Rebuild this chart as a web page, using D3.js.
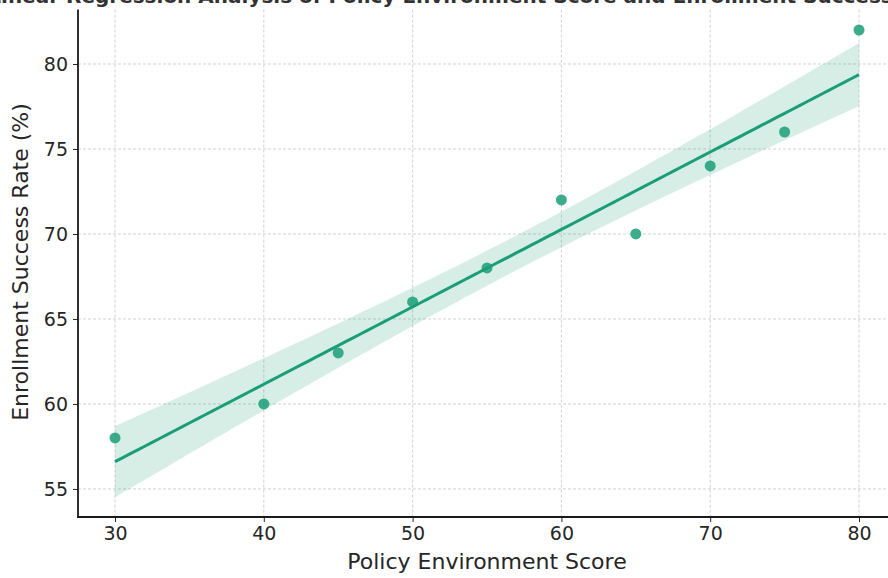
<!DOCTYPE html>
<html>
<head>
<meta charset="utf-8">
<script src="https://cdn.jsdelivr.net/npm/d3@7"></script>
<style>
  html, body { margin: 0; padding: 0; background: #fff; overflow: hidden; }
  svg { display: block; font-family: 'DejaVu Sans', sans-serif; }
</style>
</head>
<body>
<div id="chart"></div>
<script>
// Policy environment score vs enrollment success rate
const policyScores = [30, 40, 45, 50, 55, 60, 65, 70, 75, 80];
const successRates = [58, 60, 63, 66, 68, 72, 70, 74, 76, 82];
const xTicks = [30, 40, 50, 60, 70, 80];
const yTicks = [55, 60, 65, 70, 75, 80];

const width = 888;
const height = 578;
const color = '#1b9e77';

const svg = d3.select('#chart')
  .append('svg')
  .attr('width', width)
  .attr('height', height);

const x = d3.scaleLinear().domain([27.5, 82.5]).range([77.8, 896.2]);
const y = d3.scaleLinear().domain([53.35, 83.2]).range([517, 9.6]);

// least squares fit + 95% band (normal approx)
const n = policyScores.length;
const xm = d3.mean(policyScores);
const ym = d3.mean(successRates);
const sxx = d3.sum(policyScores, v => (v - xm) ** 2);
const sxy = d3.sum(policyScores, (v, i) => (v - xm) * (successRates[i] - ym));
const slope = sxy / sxx;
const intercept = ym - slope * xm;
const sse = d3.sum(policyScores, (v, i) => (successRates[i] - (intercept + slope * v)) ** 2);
const s = Math.sqrt(sse / (n - 2));
const fitX = d3.range(0, 101).map(i => 30 + (80 - 30) * i / 100);
const fit = fitX.map(v => {
  const yh = intercept + slope * v;
  const se = s * Math.sqrt(1 / n + (v - xm) ** 2 / sxx);
  return { x: v, y: yh, lo: yh - 1.96 * se, hi: yh + 1.96 * se };
});

// Title (mostly cropped off the top, as in the source image)
svg.append('text')
  .attr('x', 470)
  .attr('y', 3)
  .attr('text-anchor', 'middle')
  .style('font-size', '20px')
  .style('font-weight', 'bold')
  .attr('fill', '#333')
  .text('Linear Regression Analysis of Policy Environment Score and Enrollment Success Rate');

// grid
const grid = svg.append('g')
  .attr('stroke', '#b0b0b0')
  .attr('stroke-width', 0.8)
  .attr('stroke-dasharray', '3,2')
  .attr('opacity', 0.7);

grid.selectAll('line.gx')
  .data(xTicks)
  .enter()
  .append('line')
  .attr('x1', d => x(d)).attr('x2', d => x(d))
  .attr('y1', y.range()[1]).attr('y2', 517);

grid.selectAll('line.gy')
  .data(yTicks)
  .enter()
  .append('line')
  .attr('x1', 78).attr('x2', width)
  .attr('y1', d => y(d)).attr('y2', d => y(d));

// confidence band
svg.append('path')
  .datum(fit)
  .attr('fill', color)
  .attr('fill-opacity', 0.18)
  .attr('d', d3.area()
    .x(d => x(d.x))
    .y0(d => y(d.lo))
    .y1(d => y(d.hi)));

// regression line
svg.append('path')
  .datum(fit)
  .attr('fill', 'none')
  .attr('stroke', color)
  .attr('stroke-width', 3)
  .attr('d', d3.line().x(d => x(d.x)).y(d => y(d.y)));

// points
svg.append('g')
  .selectAll('circle')
  .data(policyScores)
  .enter()
  .append('circle')
  .attr('cx', d => x(d))
  .attr('cy', (d, i) => y(successRates[i]))
  .attr('r', 5.5)
  .attr('fill', color)
  .attr('fill-opacity', 0.85);

// axes
const xAxis = svg.append('g')
  .attr('transform', 'translate(0,517)')
  .call(d3.axisBottom(x).tickValues(xTicks).tickSize(5).tickPadding(5).tickFormat(d3.format('d')));
const yAxis = svg.append('g')
  .attr('transform', 'translate(78,0)')
  .call(d3.axisLeft(y).tickValues(yTicks).tickSize(5).tickPadding(5).tickFormat(d3.format('d')));

[xAxis, yAxis].forEach(g => {
  g.select('.domain').remove();
  g.selectAll('text').style('font-size', '19px').attr('fill', '#262626').style('font-family', 'DejaVu Sans');
  g.selectAll('line').attr('stroke', '#262626').attr('stroke-width', 1);
});

// spines
svg.append('line')
  .attr('x1', 78).attr('x2', 78)
  .attr('y1', y.range()[1]).attr('y2', 517.8)
  .attr('stroke', '#1a1a1a').attr('stroke-width', 1.8);
svg.append('line')
  .attr('x1', 77.2).attr('x2', width)
  .attr('y1', 517).attr('y2', 517)
  .attr('stroke', '#1a1a1a').attr('stroke-width', 1.8);

// axis labels
svg.append('text')
  .attr('x', 487)
  .attr('y', 569)
  .attr('text-anchor', 'middle')
  .style('font-size', '22px')
  .attr('fill', '#262626')
  .text('Policy Environment Score');

svg.append('text')
  .attr('transform', 'translate(28,262) rotate(-90)')
  .attr('text-anchor', 'middle')
  .style('font-size', '22px')
  .attr('fill', '#262626')
  .text('Enrollment Success Rate (%)');
</script>
</body>
</html>
